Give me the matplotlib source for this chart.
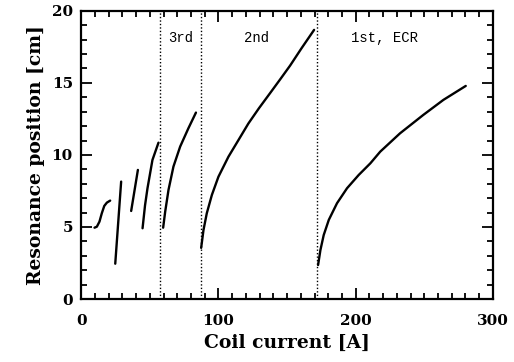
import numpy as np
import matplotlib
matplotlib.use('Agg')
import matplotlib.pyplot as plt
from matplotlib.ticker import MultipleLocator

# Resonance curves (coil current [A], position [cm])
seg1_x = [9.7, 11.4, 13.3, 15.0, 16.8, 18.7, 21.1]
seg1_y = [4.95, 5.02, 5.37, 5.95, 6.46, 6.69, 6.83]
seg2_x = [24.8, 29.1]
seg2_y = [2.45, 8.15]
seg3_x = [36.4, 41.3]
seg3_y = [6.11, 8.96]
seg4_x = [44.7, 46.5, 48.3, 51.9, 56.3]
seg4_y = [4.91, 6.5, 7.69, 9.65, 10.85]
third_x = [59.7, 61.2, 63.6, 67.2, 72.1, 78.1, 83.6]
third_y = [4.95, 6.07, 7.57, 9.19, 10.58, 11.85, 12.94]
second_x = [87.4, 89.1, 91.5, 95.2, 100.0, 107.3, 114.5, 121.8, 129.5, 137.7, 145.0, 152.2, 160.5, 169.7]
second_y = [3.55, 4.79, 5.95, 7.22, 8.49, 9.88, 11.02, 12.18, 13.24, 14.3, 15.25, 16.2, 17.4, 18.68]
first_x = [172.6, 174.3, 176.7, 180.4, 186.4, 193.7, 202.2, 210.7, 217.9, 232.3, 249.3, 263.9, 280.2]
first_y = [2.36, 3.4, 4.44, 5.49, 6.65, 7.69, 8.61, 9.42, 10.23, 11.5, 12.78, 13.82, 14.79]

harmonic_lines = [57.3, 87.0, 172.0]
harmonic_labels = ['3rd', '2nd', '1st, ECR']
label_x = [72.5, 127.5, 221.0]
label_y = [18.1, 18.1, 18.1]

fig = plt.figure(figsize=(5.14, 3.62), dpi=100)
ax = fig.add_axes([0.158, 0.174, 0.801, 0.796])

for xs, ys in [(seg1_x, seg1_y), (seg2_x, seg2_y), (seg3_x, seg3_y), (seg4_x, seg4_y),
               (third_x, third_y), (second_x, second_y), (first_x, first_y)]:
    ax.plot(xs, ys, color='black', lw=1.7, solid_capstyle='round', solid_joinstyle='round')

for xv in harmonic_lines:
    ax.axvline(xv, color='black', lw=1.0, ls=(0, (1, 1.5)))

for lx, ly, txt in zip(label_x, label_y, harmonic_labels):
    ax.text(lx, ly, txt, ha='center', va='center', fontsize=10, family='Liberation Mono')

ax.set_xlim(0, 300)
ax.set_ylim(0, 20)
ax.xaxis.set_major_locator(MultipleLocator(100))
ax.xaxis.set_minor_locator(MultipleLocator(10))
ax.yaxis.set_major_locator(MultipleLocator(5))
ax.yaxis.set_minor_locator(MultipleLocator(1))
ax.tick_params(which='both', direction='in', top=True, right=True, width=1.3)
ax.tick_params(which='major', length=8)
ax.tick_params(which='minor', length=4)
ax.tick_params(axis='x', which='major', pad=11)
ax.tick_params(axis='y', which='major', pad=6)
for sp in ax.spines.values():
    sp.set_linewidth(1.6)

for lab in ax.get_xticklabels() + ax.get_yticklabels():
    lab.set_family('DejaVu Serif')
    lab.set_fontweight('bold')
    lab.set_fontsize(11)

ax.set_xlabel('Coil current [A]', family='DejaVu Serif', fontweight='bold', fontsize=13.5, labelpad=4)
ax.set_ylabel('Resonance position [cm]', family='DejaVu Serif', fontweight='bold', fontsize=13.5, labelpad=5)

fig.savefig('out.png', dpi=100)
